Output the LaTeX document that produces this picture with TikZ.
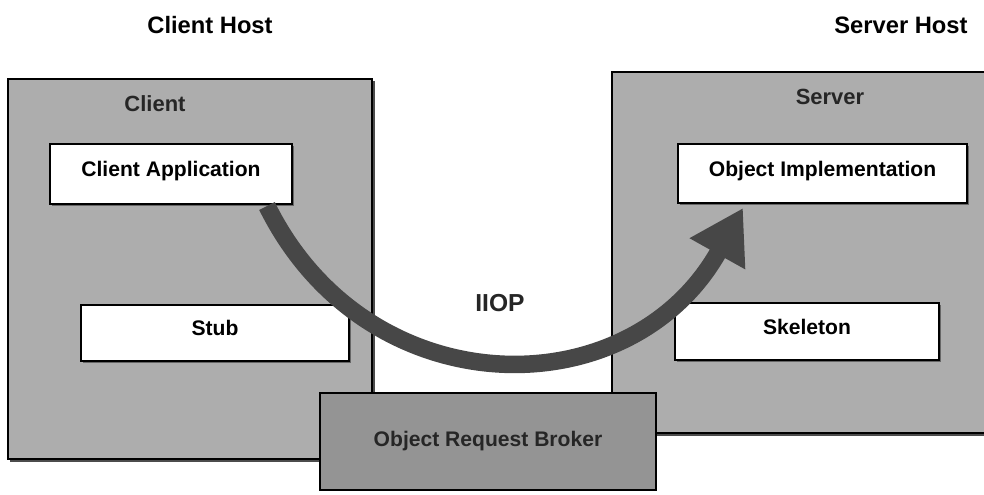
\documentclass[tikz,border=0pt]{standalone}
\usepackage{fontspec}
\setmainfont{Liberation Sans}
\usetikzlibrary{arrows.meta,shadows}

\begin{document}
\begin{tikzpicture}[x=0.2mm, y=-0.2mm,
    hostbox/.style={draw, line width=1.2pt, fill=black!32, inner sep=0pt, outer sep=0pt,
        drop shadow={shadow xshift=0.5mm, shadow yshift=-0.5mm, fill=black!70, opacity=1}},
    partbox/.style={draw, line width=1pt, fill=white, inner sep=0pt, outer sep=0pt,
        font=\bfseries\fontsize{12}{14}\selectfont, text height=3mm, text depth=2mm,
        drop shadow={shadow xshift=0.4mm, shadow yshift=-0.4mm, fill=black!60, opacity=1}},
    title/.style={font=\bfseries\fontsize{13.5}{16}\selectfont},
    boxtitle/.style={font=\bfseries\fontsize{12.5}{15}\selectfont, text=black!85}]
    \useasboundingbox (0,0) rectangle (984,494);
    \clip (0,0) rectangle (984,494);

    % Titoli degli host
    \node[title] (client_host) at (210,25) {Client Host};
    \node[title] (server_host) at (901,25) {Server Host};

    % Riquadri client e server
    \node[hostbox, minimum width=7.28cm, minimum height=7.6cm] (client_box) at (190,269) {};
    \node[hostbox, minimum width=7.76cm, minimum height=7.22cm] (server_box) at (806,252.5) {};
    \node[boxtitle] (client_lbl) at (155,104) {Client};
    \node[boxtitle] (server_lbl) at (830,97) {Server};

    % Componenti interni
    \node[partbox, minimum width=4.84cm, minimum height=1.2cm] (cli_app) at (171,174) {Client Application};
    \node[partbox, minimum width=5.36cm, minimum height=1.12cm] (stub) at (215,333) {Stub};
    \node[partbox, minimum width=5.78cm, minimum height=1.18cm] (obj_impl) at (822.5,173.5) {Object Implementation};
    \node[partbox, minimum width=5.28cm, minimum height=1.14cm] (skeleton) at (807,331.5) {Skeleton};

    % Protocollo
    \node[font=\bfseries\fontsize{14}{16}\selectfont, text=black!85] (iiop) at (500,303) {IIOP};

    % Freccia della richiesta
    \draw[line width=0.35cm, black!72, -{Triangle[length=1.05cm, width=1.2cm]}]
        ([xshift=-0.5cm, yshift=-0.04cm]cli_app.south east)
        .. controls +(100,202) and +(-113,202) ..
        ([xshift=1.3cm, yshift=-0.1cm]obj_impl.south west);

    % Object Request Broker
    \node[draw, line width=1.2pt, fill=black!42, inner sep=0pt, minimum width=6.72cm, minimum height=1.94cm,
        font=\bfseries\fontsize{12}{14}\selectfont, text=black!85] (orb) at (488,441.5) {Object Request Broker};
\end{tikzpicture}
\end{document}
